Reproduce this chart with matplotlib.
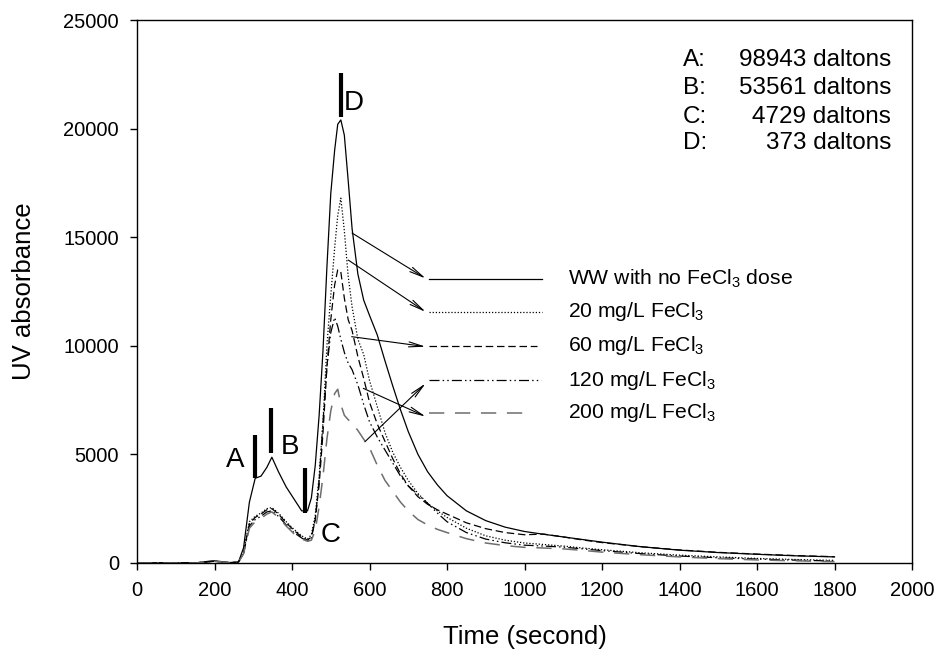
import matplotlib
matplotlib.use('Agg')
import matplotlib.pyplot as plt

plt.rcParams['font.family'] = ['Liberation Sans', 'DejaVu Sans']
plt.rcParams['mathtext.fontset'] = 'custom'
plt.rcParams['mathtext.rm'] = 'Liberation Sans'
plt.rcParams['mathtext.it'] = 'Liberation Sans'
plt.rcParams['mathtext.default'] = 'regular'

# time axis (s), shared by all series
t = [0, 150, 185, 200, 240, 262, 275, 290, 305, 320, 335, 348, 365, 385, 405, 425, 440, 450,
     460, 470, 480, 490, 500, 510, 518, 526, 535, 545, 555, 570, 585, 600, 620, 640, 660, 680,
     700, 725, 750, 775, 800, 850, 900, 950, 1000, 1050, 1100, 1150, 1200, 1300, 1400, 1500,
     1600, 1700, 1800]

ww = [0, 0, 80, 100, 20, 50, 700, 2800, 3900, 4000, 4400, 4870, 4200, 3500, 2950, 2400, 2400, 3000,
      4500, 6800, 9800, 13600, 17000, 19000, 20200, 20400, 19700, 17600, 15400, 13300, 12100, 11400,
      10500, 9300, 8150, 7050, 6050, 5000, 4200, 3600, 3100, 2400, 1950, 1650, 1450, 1320, 1200,
      1080, 960, 750, 590, 480, 400, 330, 280]
fe20 = [0, 0, 60, 80, 10, 40, 500, 1900, 2150, 2300, 2500, 2550, 2300, 1900, 1550, 1250, 1100, 1300,
        2200, 4000, 6500, 10000, 12300, 14500, 16000, 16800, 15300, 13200, 11800, 10300, 9600, 8400,
        7200, 6000, 5100, 4400, 3800, 3200, 2750, 2400, 2100, 1600, 1250, 1050, 920, 850, 780,
        690, 610, 470, 360, 280, 210, 160, 120]
fe60 = [0, 0, 60, 80, 10, 40, 480, 1800, 2100, 2250, 2450, 2500, 2250, 1850, 1500, 1200, 1050, 1200,
        2000, 3600, 6000, 9000, 11200, 12800, 13500, 13400, 12200, 11200, 10700, 9500, 8500, 7400,
        6400, 5600, 4800, 4100, 3550, 3050, 2700, 2450, 2250, 1850, 1580, 1400, 1300, 1330, 1200,
        1060, 940, 750, 600, 490, 410, 340, 290]
fe120 = [0, 0, 60, 80, 10, 40, 450, 1700, 2000, 2150, 2350, 2400, 2150, 1750, 1400, 1150, 1000, 1150,
         2000, 3800, 6500, 9000, 10600, 11300, 10900, 10300, 9700, 9200, 8900, 8200, 7300, 6500,
         5800, 5200, 4600, 4000, 3550, 3150, 2750, 2300, 1900, 1400, 1100, 930, 820, 780, 730,
         650, 570, 430, 320, 240, 180, 130, 90]
fe200 = [0, 0, 60, 80, 10, 40, 420, 1600, 1900, 2050, 2250, 2350, 2100, 1700, 1350, 1100, 1000, 1050,
         1500, 2600, 4000, 5700, 7000, 7800, 8000, 7300, 6800, 6600, 6450, 6100, 5700, 5300,
         4500, 3800, 3300, 2800, 2400, 2000, 1750, 1550, 1400, 1120, 920, 800, 720, 690, 650,
         580, 500, 380, 280, 200, 140, 100, 60]

labels = ['WW with no FeCl$_3$ dose', '20 mg/L FeCl$_3$', '60 mg/L FeCl$_3$',
          '120 mg/L FeCl$_3$', '200 mg/L FeCl$_3$']
peaks = ['A', 'B', 'C', 'D']
daltons = ['98943 daltons', '53561 daltons', '4729 daltons', '373 daltons']

styles = [dict(color='black', linestyle='-', linewidth=0.9),
          dict(color='black', linestyle=(0, (1, 1.5)), linewidth=0.9),
          dict(color='black', linestyle=(0, (6, 3)), linewidth=0.9),
          dict(color='black', linestyle=(0, (8, 2.5, 1.2, 2.5, 1.2, 2.5)), linewidth=0.9),
          dict(color='#6e6e6e', linestyle=(0, (10, 7)), linewidth=1.1)]

fig = plt.figure(figsize=(9.41, 6.58), dpi=100)
ax = fig.add_axes([0.1456, 0.1444, 0.8236, 0.8252])

for y, st in zip([ww, fe20, fe60, fe120, fe200], styles):
    ax.plot(t, y, **st)

# legend drawn by hand
leg_y = [13075, 11556, 9991, 8425, 6906]
leg_x2 = [1045, 1045, 1032, 1042, 1016]
for yy, x2, st, lab in zip(leg_y, leg_x2, styles, labels):
    ax.plot([754, x2], [yy, yy], **st)
    ax.text(1111, yy, lab, fontsize=15.2, va='center', ha='left')

arw = dict(arrowstyle='->,head_length=1.0,head_width=0.18', color='black', lw=0.8,
           shrinkA=0, shrinkB=0)
ax.annotate('', xy=(745, 13100), xytext=(555, 15190), arrowprops=arw)
ax.annotate('', xy=(745, 11560), xytext=(545, 13950), arrowprops=arw)
ax.annotate('', xy=(745, 9960), xytext=(554, 10420), arrowprops=arw)
ax.annotate('', xy=(745, 8270), xytext=(588, 5580), arrowprops=arw)
ax.annotate('', xy=(745, 6740), xytext=(584, 8040), arrowprops=arw)

# peak markers
bar_x = [305, 346, 433, 526]
bar_y = [(3900, 5890), (5060, 7140), (2300, 4370), (20530, 22560)]
lab_xy = [(253, 4740), (395, 5340), (500, 1290), (560, 21200)]
for bx, (y0, y1), (lx, ly), p in zip(bar_x, bar_y, lab_xy, peaks):
    ax.plot([bx, bx], [y0, y1], color='black', linewidth=3, solid_capstyle='butt')
    ax.text(lx, ly, p, fontsize=20, ha='center', va='center')

dal_y = [23160, 21870, 20530, 19340]
for yy, p, d in zip(dal_y, peaks, daltons):
    ax.text(1409, yy, p + ':', fontsize=17.5, ha='left', va='center')
    ax.text(1946, yy, d, fontsize=17.5, ha='right', va='center')

ax.set_xlim(0, 2000)
ax.set_ylim(0, 25000)
ax.set_xticks(range(0, 2001, 200))
ax.set_yticks(range(0, 25001, 5000))
ax.tick_params(axis='both', direction='out', length=5, width=1, labelsize=14.5, pad=8,
               top=False, right=False)
for s in ax.spines.values():
    s.set_linewidth(1)
ax.set_xlabel('Time (second)', fontsize=18.5, labelpad=18)
ax.set_ylabel('UV absorbance', fontsize=18.5, labelpad=20)

fig.savefig('out.png', dpi=100)
